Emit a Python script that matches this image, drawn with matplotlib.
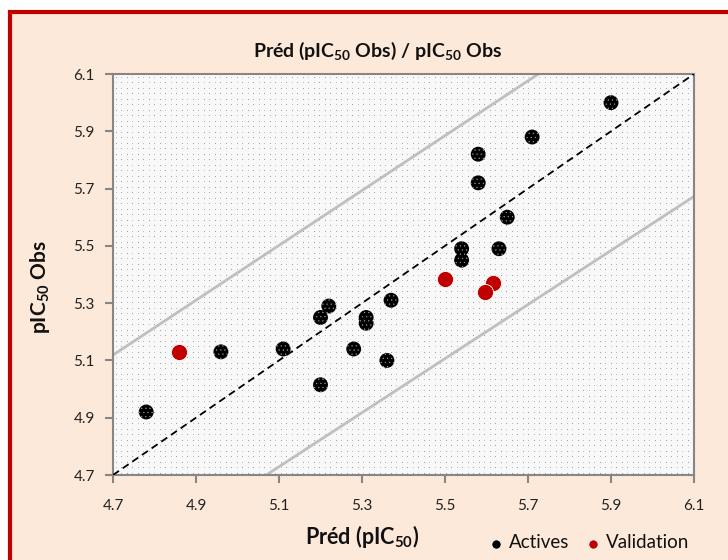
import numpy as np
import matplotlib
matplotlib.use("Agg")
import matplotlib.pyplot as plt
from matplotlib.patches import Rectangle

plt.rcParams['font.family'] = ['Lato', 'DejaVu Sans']
plt.rcParams['mathtext.fontset'] = 'custom'
plt.rcParams['mathtext.rm'] = 'Lato'
plt.rcParams['mathtext.bf'] = 'Lato:bold'
plt.rcParams['hatch.linewidth'] = 0.35

# ---- data ----
actives_pred = [4.78, 4.96, 5.11, 5.20, 5.22, 5.20, 5.28, 5.31, 5.31, 5.36, 5.37,
                5.54, 5.54, 5.63, 5.65, 5.58, 5.58, 5.71, 5.90]
actives_obs = [4.92, 5.13, 5.14, 5.25, 5.29, 5.015, 5.14, 5.25, 5.23, 5.10, 5.31,
               5.49, 5.45, 5.49, 5.60, 5.72, 5.82, 5.88, 6.00]
valid_pred = [4.86, 5.50, 5.615, 5.597]
valid_obs = [5.13, 5.383, 5.369, 5.34]

ideal_x = [4.7, 6.1]
ideal_y = [4.7, 6.1]
band_x = [4.6, 6.2]
upper_y = [5.023, 6.555]
lower_y = [4.257, 5.767]

ticks = [4.7, 4.9, 5.1, 5.3, 5.5, 5.7, 5.9, 6.1]
tick_labels = ['4.7', '4.9', '5.1', '5.3', '5.5', '5.7', '5.9', '6.1']

W, H = 728, 560
fig = plt.figure(figsize=(W / 100, H / 100), dpi=100, facecolor='white')

peach = '#FDE9D9'
red = '#C00000'
fig.patches.append(Rectangle((10 / W, -0.05), 1.2, (H - 11.5) / H + 0.05,
                             transform=fig.transFigure, facecolor=peach,
                             edgecolor=red, linewidth=3.0, zorder=-5))

ax = fig.add_axes([113 / W, 1 - 475 / H, (694 - 113) / W, (475 - 74) / H])
ax.set_xlim(4.7, 6.1)
ax.set_ylim(4.7, 6.1)

# dotted pattern background
pw, ph = 581, 401
pat = np.ones((ph, pw, 3)) * 0.975
xs = np.arange(3, pw, 5.5).astype(int)
ys = np.arange(3, ph, 5.5).astype(int)
for j, yy in enumerate(ys):
    for i, xx in enumerate(xs):
        pat[yy, xx] = 0.62 if (i + j) % 2 == 0 else 0.75
ax.imshow(pat, extent=[4.7, 6.1, 4.7, 6.1], aspect='auto',
          interpolation='nearest', zorder=0)

gray = '#BFBFBF'
ax.plot(band_x, upper_y, color=gray, lw=2.0, zorder=2, solid_capstyle='butt')
ax.plot(band_x, lower_y, color=gray, lw=2.0, zorder=2, solid_capstyle='butt')
ax.plot(ideal_x, ideal_y, color='black', lw=1.3, ls=(0, (4, 2.5)), zorder=3)

sa = ax.scatter(actives_pred, actives_obs, s=115, facecolor='black',
                edgecolor='#9a9a9a', linewidths=0.0, hatch='....', zorder=4,
                label='Actives')
sv = ax.scatter(valid_pred, valid_obs, s=135, facecolor=red,
                edgecolor='white', linewidths=0.6, zorder=5, label='Validation')

for sp in ax.spines.values():
    sp.set_color('#868686')
    sp.set_linewidth(1.5)
ax.set_xticks(ticks)
ax.set_xticklabels(tick_labels)
ax.set_yticks(ticks)
ax.set_yticklabels(tick_labels)
ax.tick_params(axis='x', direction='out', length=6, width=1.5, color='#868686',
               labelsize=11, pad=11, labelcolor='#222222')
ax.tick_params(axis='y', direction='out', length=6, width=1.5, color='#868686',
               labelsize=11, pad=7, labelcolor='#222222')

fig.text(378 / W, 1 - 51 / H, r'Préd (pIC$_{\mathbf{50}}$ Obs) / pIC$_{\mathbf{50}}$ Obs',
         ha='center', va='center', fontsize=14, fontweight='bold', color='#111111')
fig.text(362 / W, 1 - 537 / H, r'Préd (pIC$_{\mathbf{50}}$)',
         ha='center', va='center', fontsize=15.5, fontweight='bold', color='#111111')
fig.text(40 / W, 1 - 287 / H, r'pIC$_{\mathbf{50}}$ Obs', rotation=90,
         ha='center', va='center', fontsize=15, fontweight='bold', color='#111111')

leg = fig.legend(handles=[sa, sv], loc='center', bbox_to_anchor=(588 / W, 1 - 543 / H),
                 ncol=2, frameon=False, fontsize=13.5, markerscale=1.0,
                 handletextpad=0.15, columnspacing=0.8, handlelength=1.0)
for h in leg.legend_handles:
    h.set_sizes([45])
    h.set_edgecolor('white')
    h.set_linewidth(0.6)
    h.set_hatch(None)
for t in leg.get_texts():
    t.set_color('#111111')

fig.savefig('out.png', dpi=100, facecolor='white')
